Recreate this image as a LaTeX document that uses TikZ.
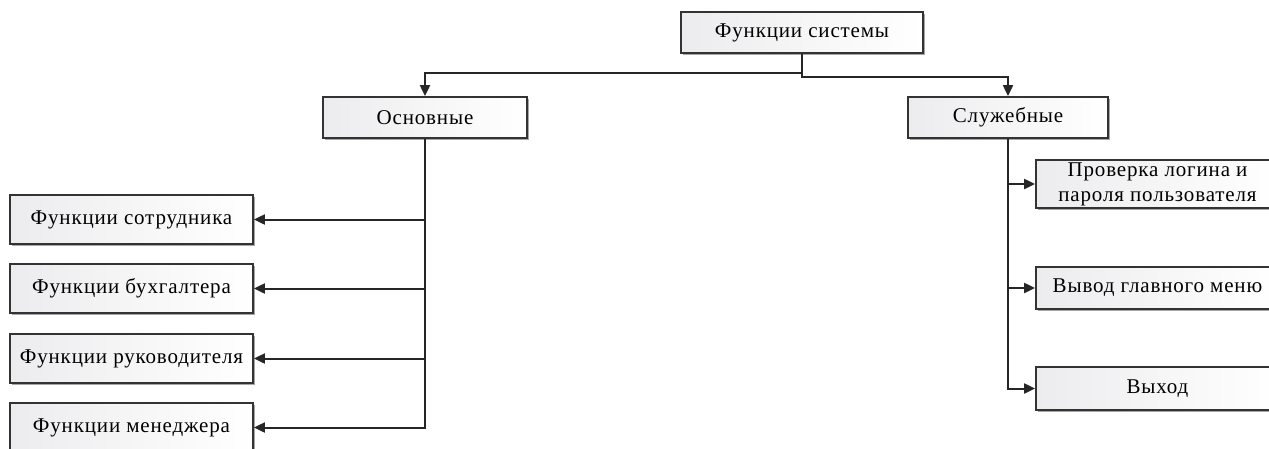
\documentclass[tikz,border=0pt]{standalone}
\usepackage{fontspec}
\setmainfont{Liberation Serif}
\newfontfamily\boxfont[LetterSpace=4]{Liberation Serif}
\usetikzlibrary{arrows.meta,shadows}
\begin{document}
\begin{tikzpicture}[x=1pt,y=-1pt,
  box/.style={draw=black!80, line width=1.8pt, left color=blue!6!gray!14, right color=white,
    drop shadow={shadow xshift=1.5pt, shadow yshift=-1.5pt, fill=gray!70, opacity=1},
    inner sep=2pt, align=center, font=\boxfont\fontsize{21}{22}\selectfont},
  link/.style={line width=2pt, draw=black!85, -{Triangle[length=11pt,width=10pt]}}]
  \useasboundingbox (0,0) rectangle (1269,448);

  \node[box, minimum width=242pt, minimum height=41pt] (sys) at (802,32.5) {Функции системы};
  \node[box, minimum width=204pt, minimum height=41pt] (main) at (425,117.5) {Основные};
  \node[box, minimum width=200pt, minimum height=41pt] (serv) at (1008,117.5) {Служебные};

  \node[box, minimum width=243pt, minimum height=49pt] (emp) at (131.5,219.5) {Функции сотрудника};
  \node[box, minimum width=243pt, minimum height=49pt] (acc) at (131.5,288.5) {Функции бухгалтера};
  \node[box, minimum width=243pt, minimum height=49pt] (head) at (131.5,358.5) {Функции руководителя};
  \node[box, minimum width=243pt, minimum height=49pt] (mgr) at (131.5,427.5) {Функции менеджера};

  \node[box, minimum width=243pt, minimum height=48pt, inner sep=0pt] (login) at (1157.5,184) {Проверка логина и\\[3pt]пароля пользователя};
  \node[box, minimum width=243pt, minimum height=42pt] (menu) at (1157.5,288) {Вывод главного меню};
  \node[box, minimum width=243pt, minimum height=43pt] (quit) at (1157.5,388.5) {Выход};

  \draw[link] (sys.south) -- ++(0,19) -| (main.north);
  \draw[link] (sys.south) -- ++(0,23) -| (serv.north);

  \draw[link] (main.south) |- (emp.east);
  \draw[link] (main.south) |- (acc.east);
  \draw[link] (main.south) |- (head.east);
  \draw[link] (main.south) |- (mgr.east);

  \draw[link] (serv.south) |- (login.west);
  \draw[link] (serv.south) |- (menu.west);
  \draw[link] (serv.south) |- (quit.west);
\end{tikzpicture}
\end{document}
